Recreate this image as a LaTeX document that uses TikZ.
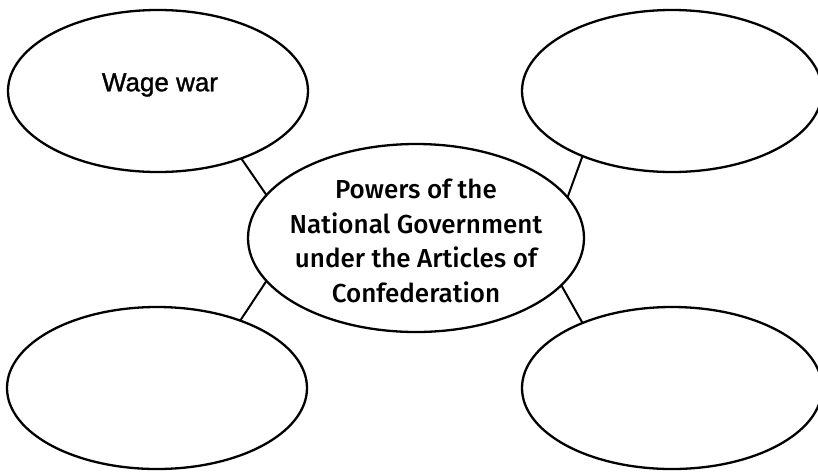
\documentclass[tikz,border=0pt]{standalone}
\usepackage{fontspec}
\setmainfont{Liberation Sans}
\newfontfamily\wwfont[FakeBold=1.2]{Liberation Sans}
\newfontfamily\ctrfont{Fira Sans Medium}
\usetikzlibrary{shapes.geometric}
\begin{document}
\begin{tikzpicture}[x=1pt,y=-1pt,
  bubble/.style={draw, ellipse, line width=2.3pt, inner sep=0pt, outer sep=0pt,
    minimum width=300pt, minimum height=162pt},
  link/.style={line width=2pt}]
\useasboundingbox (0,0) rectangle (818,472);
\node[bubble] (tl) at (158,91) {};
\node[bubble] (tr) at (672,91) {};
\node[bubble] (bl) at (157,388) {};
\node[bubble] (br) at (672,388) {};
\node[draw, ellipse, line width=2.3pt, inner sep=0pt, outer sep=0pt,
  minimum width=336pt, minimum height=188pt] (c) at (416,238) {};
\node[font=\wwfont\fontsize{26}{30}\selectfont] (ww) at (160,85) {Wage war};
\node[font=\ctrfont\fontsize{26}{34.7}\selectfont, align=center] (ct) at (416,241)
  {Powers of the\\National Government\\under the Articles of\\Confederation};
\draw[link] (tl.-39.1) -- (c.164.4);
\draw[link] (tr.216.3) -- (c.15.1);
\draw[link] (bl.39.1) -- (c.196.2);
\draw[link] (br.144.2) -- (c.-18.8);
\end{tikzpicture}
\end{document}
